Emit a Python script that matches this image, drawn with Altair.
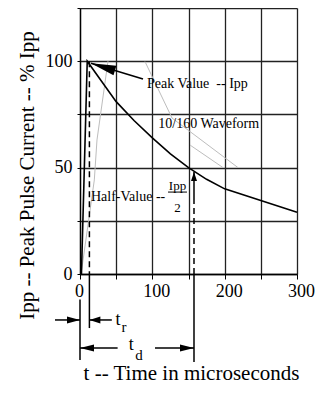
import altair as alt
import pandas as pd

FONT = "Liberation Serif"

# ---- axis ticks ----
x_ticks = [0, 50, 100, 150, 200, 250, 300]
y_ticks = [0, 25, 50, 75, 100, 125]

# ---- main 10/160 waveform (t in microseconds, % Ipp) ----
wave_t = [2, 10, 50, 75, 100, 125, 150, 175, 200, 300]
wave_v = [0, 100, 81, 72, 64, 56.5, 50, 44.5, 40, 29]

# ---- faint gray construction lines ----
gray_id = ["a", "a", "a", "a", "b", "b", "b", "c", "c"]
gray_t = [2.3, 19.8, 23.5, 38.7, 89.9, 127.2, 218.4, 152.1, 197.7]
gray_v = [1.9, 44.2, 63.0, 100.0, 99.8, 73.3, 50.0, 60.6, 50.0]

# ---- dashed markers (t, from, to) ----
dash_t = [13, 157.6]
dash_top = [100, 35.7]
dash_bot = [0, 0]

# ---- solid vertical markers ----
solid_t = [0, 13, 157.6, 157.6]
solid_top = [-12, 0, 0, 47.9]
solid_bot = [-40.4, -25.4, -41.4, 35.7]

# ---- horizontal dimension shafts ----
shaft_v = [-21.6, -21.6, -34.8, -34.8]
shaft_from = [-34.6, 44, 52, 103.7]
shaft_to = [0, 13, 0, 157.6]

# ---- peak pointer shaft ----
ptr_t = [87.1, 15.2]
ptr_v = [91.6, 99.0]

# ---- arrowheads ----
head_t = [15.2, 0, 13, 0, 157.6, 157.6]
head_v = [99.0, -21.6, -21.6, -34.8, -34.8, 47.9]
head_angle = [196.8, 0, 180, 180, 0, 270]
head_len = [25, 13, 11, 14, 14, 9]
head_halfw = [5, 3.5, 3.5, 3.5, 3.5, 3]

# ---- fraction bar for Ipp/2 ----
frac_t = [121.7]
frac_t2 = [147.9]
frac_v = [38.5]

# ---- left-aligned labels ----
ltext = ["Peak Value\u00a0\u00a0-- Ipp", "10/160 Waveform", "Half-Value -- "]
ltext_t = [92.6, 108.2, 15.2]
ltext_v = [87.5, 68.7, 34.3]
ltext_size = [14, 14, 14]

# ---- centered labels ----
ctext = ["Ipp", "2", "t", "r", "t", "d"]
ctext_t = [134.8, 134.8, 52.5, 60.8, 71.0, 81.5]
ctext_v = [39.5, 29.1, -24.0, -27.1, -35.8, -40.3]
ctext_size = [13, 13, 18, 15, 18, 15]

# ================================================================
xscale = alt.Scale(domain=[0, 300], nice=False, zero=False)
yscale = alt.Scale(domain=[0, 125], nice=False, zero=False)

xaxis = alt.Axis(
    values=x_ticks,
    labelExpr="datum.value % 100 == 0 ? datum.label : ''",
    labelFlush=False,
    labelOffset={"condition": {"test": "datum.value == 0", "value": -1}, "value": 4},
    title="t -- Time in microseconds",
    titleX=111, titleY=105, titleAlign="center", titleBaseline="alphabetic",
    tickSize=5, labelPadding=3, labelFontSize=18, titleFontSize=21,
)
yaxis = alt.Axis(
    values=y_ticks,
    labelExpr="(datum.value == 0 || datum.value == 50 || datum.value == 100) ? datum.label : ''",
    labelFlush=False,
    title="Ipp -- Peak Pulse Current -- % Ipp",
    titleX=-53, titleY=167, titleAngle=270, titleAlign="center", titleBaseline="middle",
    tickSize=3, labelPadding=5, labelFontSize=18, titleFontSize=21,
)


def X(field):
    return alt.X(f"{field}:Q", scale=xscale, axis=xaxis)


def Y(field):
    return alt.Y(f"{field}:Q", scale=yscale, axis=yaxis)


wave_df = pd.DataFrame({"t": wave_t, "v": wave_v})
gray_df = pd.DataFrame({"g": gray_id, "t": gray_t, "v": gray_v})
dash_df = pd.DataFrame({"t": dash_t, "v": dash_top, "v2": dash_bot})
solid_df = pd.DataFrame({"t": solid_t, "v": solid_top, "v2": solid_bot})
shaft_df = pd.DataFrame({"t": shaft_from, "t2": shaft_to, "v": shaft_v})
ptr_df = pd.DataFrame({"t": [ptr_t[0]], "t2": [ptr_t[1]], "v": [ptr_v[0]], "v2": [ptr_v[1]]})
head_df = pd.DataFrame({
    "t": head_t, "v": head_v, "angle": head_angle,
    "shape": [f"M0,0L-2,{-2*w/L:.3f}L-2,{2*w/L:.3f}Z" for L, w in zip(head_len, head_halfw)],
    "size": [L * L for L in head_len],
})
frac_df = pd.DataFrame({"t": frac_t, "t2": frac_t2, "v": frac_v})
ltext_df = pd.DataFrame({"label": ltext, "t": ltext_t, "v": ltext_v, "fs": ltext_size})
ctext_df = pd.DataFrame({"label": ctext, "t": ctext_t, "v": ctext_v, "fs": ctext_size})

wave = alt.Chart(wave_df).mark_line(color="black", strokeWidth=1.6).encode(x=X("t"), y=Y("v"))

gray = alt.Chart(gray_df).mark_line(color="#bdbdbd", strokeWidth=1).encode(
    x=X("t"), y=Y("v"), detail="g:N")

dashed = alt.Chart(dash_df).mark_rule(color="black", strokeWidth=1.5, strokeDash=[6, 4]).encode(
    x=X("t"), y=Y("v"), y2="v2:Q")

solid = alt.Chart(solid_df).mark_rule(color="black", strokeWidth=1.5).encode(
    x=X("t"), y=Y("v"), y2="v2:Q")

shafts = alt.Chart(shaft_df).mark_rule(color="black", strokeWidth=1.5).encode(
    x=X("t"), x2="t2:Q", y=Y("v"))

ptr = alt.Chart(ptr_df).mark_rule(color="black", strokeWidth=1.5).encode(
    x=X("t"), x2="t2:Q", y=Y("v"), y2="v2:Q")

heads = alt.Chart(head_df).mark_point(filled=True, color="black", opacity=1, strokeWidth=0).encode(
    x=X("t"), y=Y("v"),
    shape=alt.Shape("shape:N", scale=None),
    angle=alt.Angle("angle:Q", scale=None),
    size=alt.Size("size:Q", scale=None),
)

frac = alt.Chart(frac_df).mark_rule(color="black", strokeWidth=1).encode(
    x=X("t"), x2="t2:Q", y=Y("v"))

ltexts = alt.Chart(ltext_df).mark_text(align="left", baseline="alphabetic", font=FONT, color="black").encode(
    x=X("t"), y=Y("v"), text="label:N", size=alt.Size("fs:Q", scale=None))

ctexts = alt.Chart(ctext_df).mark_text(align="center", baseline="alphabetic", font=FONT, color="black").encode(
    x=X("t"), y=Y("v"), text="label:N", size=alt.Size("fs:Q", scale=None))

chart = alt.layer(
    gray, wave, dashed, solid, shafts, ptr, heads, frac, ltexts, ctexts
).properties(
    width=217, height=266,
    autosize=alt.AutoSizeParams(type="none"),
    padding={"left": 72, "right": 18, "top": 0, "bottom": 110},
    background="white",
).configure_view(stroke=None).configure_axis(
    grid=True, gridColor="#222222", gridWidth=1.3, gridOpacity=1,
    domainColor="black", domainWidth=1.3, tickColor="black",
    labelFont=FONT, titleFont=FONT, labelColor="black", titleColor="black",
    titleFontWeight="normal",
)

chart.save("out.html", embed_options={"renderer": "svg", "actions": False})
